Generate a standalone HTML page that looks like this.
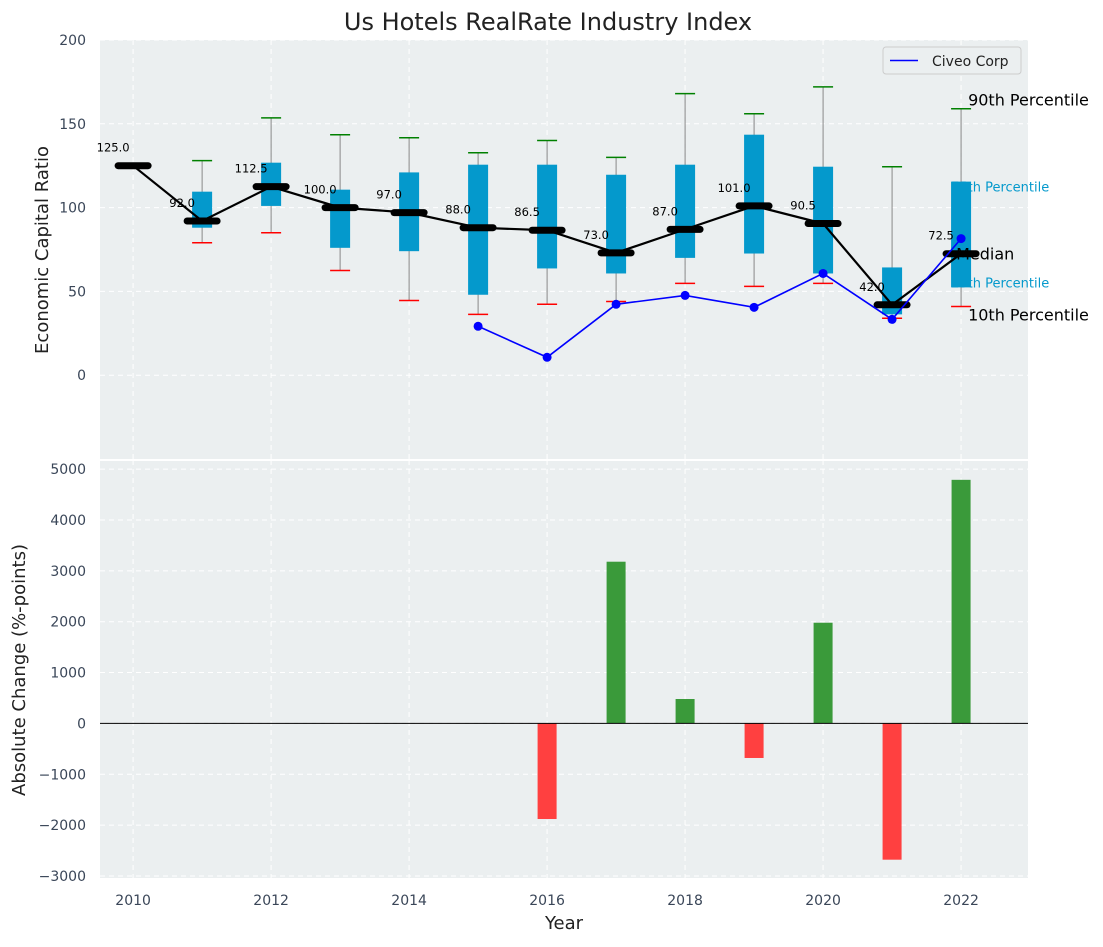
<!DOCTYPE html>
<html><head><meta charset="utf-8"><style>
body{margin:0;background:#fff;}
svg text{font-family:"DejaVu Sans","Liberation Sans",sans-serif;}
</style></head><body>
<svg id="c" width="1103" height="942" xmlns="http://www.w3.org/2000/svg"></svg>
<script>
const years=[2010,2011,2012,2013,2014,2015,2016,2017,2018,2019,2020,2021,2022];
const medians=[125,92,112.5,100,97,88,86.5,73,87,101,90.5,42,72.5];
const q1=[null,88,101,76,74,48,63.7,60.7,70,72.6,60.7,36.3,52.4];
const q3=[null,109.5,126.8,110.7,121,125.6,125.6,119.6,125.6,143.5,124.4,64.3,115.5];
const p10=[null,79,85,62.5,44.6,36.3,42.3,44,54.8,53,54.8,34,41];
const p90=[null,128,153.5,143.5,141.7,132.7,140,130,168,156,172,124.4,159];
const civeoYears=[2015,2016,2017,2018,2019,2020,2021,2022];
const civeo=[29.2,10.7,42.3,47.6,40.5,60.7,33.3,81.5];
const changeYears=[2016,2017,2018,2019,2020,2021,2022];
const changes=[-1880,3180,480,-680,1980,-2680,4790];
const topTicks=[0,50,100,150,200];
const botTicks=[-3000,-2000,-1000,0,1000,2000,3000,4000,5000];
const xTicks=[2010,2012,2014,2016,2018,2020,2022];

const NS="http://www.w3.org/2000/svg";
const svg=document.getElementById('c');
function el(t,a,p){const e=document.createElementNS(NS,t);for(const k in a)e.setAttribute(k,a[k]);(p||svg).appendChild(e);return e;}
const L=100,R=1028;
const X=v=>L+(v-2009.52)/(2022.97-2009.52)*(R-L);
const T0=40,T1=459;const Yt=v=>T0+(200-v)/(250)*(T1-T0);
const B0=460,B1=878;const Yb=v=>B0+(5180-v)/(8220)*(B1-B0);

// backgrounds
let e=el('rect',{x:L,y:T0,width:R-L,height:T1-T0,fill:'#ebeff0'});

e=el('rect',{x:L,y:B0+1,width:R-L,height:B1-B0-1,fill:'#ebeff0'});

// grid
xTicks.forEach(v=>{
 el('line',{x1:X(v),x2:X(v),y1:T0,y2:T1,stroke:'#fff','stroke-dasharray':'5,4','stroke-width':1});
 el('line',{x1:X(v),x2:X(v),y1:B0,y2:B1,stroke:'#fff','stroke-dasharray':'5,4','stroke-width':1});
 e=el('text',{x:X(v),y:905,'font-size':14,fill:'#3a4658','text-anchor':'middle'});e.textContent=v;
 
});
topTicks.forEach(v=>{
 el('line',{x1:L,x2:R,y1:Yt(v),y2:Yt(v),stroke:'#fff','stroke-dasharray':'5,4'});
 e=el('text',{x:86,y:Yt(v)+5,'font-size':14,fill:'#3a4658','text-anchor':'end'});e.textContent=v;
 
});
botTicks.forEach(v=>{
 el('line',{x1:L,x2:R,y1:Yb(v),y2:Yb(v),stroke:'#fff','stroke-dasharray':'5,4'});
 e=el('text',{x:86,y:Yb(v)+5,'font-size':14,fill:'#3a4658','text-anchor':'end'});e.textContent=(v<0?'\u2212'+(-v):v);
 
});
// percentile labels (behind boxes)
const lx=X(2022)+7;
[['75th Percentile',q3[12]-3,'#0499cc',13],['25th Percentile',q1[12]+3,'#0499cc',13]].forEach(a=>{
 e=el('text',{x:X(2022)-10,y:Yt(a[1])+5,'font-size':a[3],fill:a[2]});e.textContent=a[0];
 
});
// boxes
years.forEach((y,i)=>{
 if(q1[i]==null)return;
 const x=X(y);
 el('line',{x1:x,x2:x,y1:Yt(p90[i]),y2:Yt(p10[i]),stroke:'#888','stroke-width':1});
 e=el('rect',{x:x-10,y:Yt(q3[i]),width:20,height:Yt(q1[i])-Yt(q3[i]),fill:'#0499cc'});
 
 e=el('line',{x1:x-10,x2:x+10,y1:Yt(p90[i]),y2:Yt(p90[i]),stroke:'#008000','stroke-width':1.5});
 
 e=el('line',{x1:x-10,x2:x+10,y1:Yt(p10[i]),y2:Yt(p10[i]),stroke:'#ff0000','stroke-width':1.5});
 
});
// median line
e=el('polyline',{points:years.map((y,i)=>X(y)+','+Yt(medians[i])).join(' '),fill:'none',stroke:'#000','stroke-width':2.2});

years.forEach((y,i)=>{
 const x=X(y),yy=Yt(medians[i]);
 e=el('line',{x1:x-15,x2:x+15,y1:yy,y2:yy,stroke:'#000','stroke-width':7,'stroke-linecap':'round'});
 
 e=el('text',{x:x-20,y:yy-14,'font-size':11.5,fill:'#000','text-anchor':'middle'});e.textContent=medians[i].toFixed(1);
 
});
// civeo
e=el('polyline',{points:civeoYears.map((y,i)=>X(y)+','+Yt(civeo[i])).join(' '),fill:'none',stroke:'#0000ff','stroke-width':1.6});

civeoYears.forEach((y,i)=>{e=el('circle',{cx:X(y),cy:Yt(civeo[i]),r:4.5,fill:'#0000ff'});
 });
// annotations
[['90th Percentile',p90[12]],['10th Percentile',p10[12]]].forEach(a=>{
 e=el('text',{x:lx,y:Yt(a[1])+a[1]>100?0:0,'font-size':16,fill:'#000'});
});
e=el('text',{x:lx,y:Yt(p90[12])-3,'font-size':16,fill:'#000'});e.textContent='90th Percentile';

e=el('text',{x:lx,y:Yt(p10[12])+14,'font-size':16,fill:'#000'});e.textContent='10th Percentile';

e=el('text',{x:X(2022)-5,y:Yt(medians[12])+6,'font-size':16,fill:'#000'});e.textContent='Median';

// legend
const g=el('g',{});
el('rect',{x:883,y:47,width:138,height:27,rx:3,fill:'#ebeff0',stroke:'#ccc'},g);
el('line',{x1:890,x2:918,y1:60.5,y2:60.5,stroke:'#0000ff','stroke-width':1.6},g);
e=el('text',{x:932,y:66,'font-size':14,fill:'#222'},g);e.textContent='Civeo Corp';
// bars
changeYears.forEach((y,i)=>{
 const v=changes[i];const y1=Yb(Math.max(0,v)),y2=Yb(Math.min(0,v));
 e=el('rect',{x:X(y)-9.5,y:y1,width:19,height:y2-y1,fill:v>=0?'#3a9a3a':'#ff4040'});
 
});
e=el('line',{x1:L,x2:R,y1:Yb(0),y2:Yb(0),stroke:'#000','stroke-width':1});

// titles
e=el('text',{x:548,y:30,'font-size':24,fill:'#222','text-anchor':'middle'});e.textContent='Us Hotels RealRate Industry Index';

e=el('text',{x:564,y:929,'font-size':18,fill:'#222','text-anchor':'middle'});e.textContent='Year';

e=el('text',{x:48,y:250,'font-size':18,fill:'#222','text-anchor':'middle',transform:'rotate(-90 48 250)'});e.textContent='Economic Capital Ratio';

e=el('text',{x:25,y:670,'font-size':18,fill:'#222','text-anchor':'middle',transform:'rotate(-90 25 670)'});e.textContent='Absolute Change (%-points)';

</script>
</body></html>
